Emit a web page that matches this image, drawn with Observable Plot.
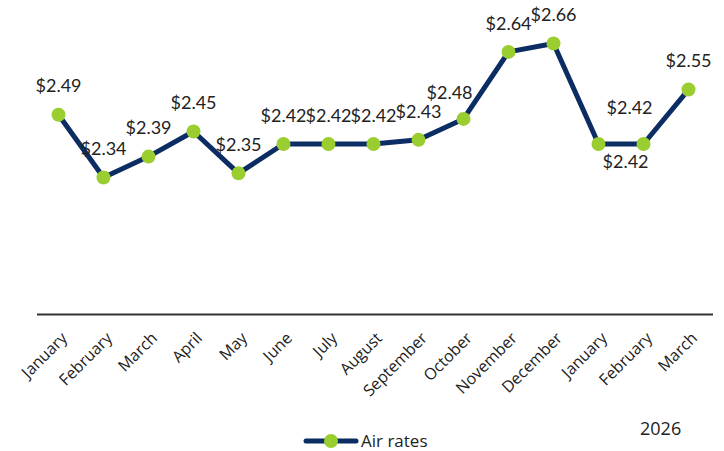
<!DOCTYPE html>
<html>
<head>
<meta charset="utf-8">
<script src="https://cdn.jsdelivr.net/npm/d3@7"></script>
<script src="https://cdn.jsdelivr.net/npm/@observablehq/plot@0.6"></script>
<style>
  body { margin: 0; background: #fff; font-family: Lato, sans-serif; }
  #wrap { position: relative; width: 724px; height: 451px; overflow: hidden; }
  #year { position: absolute; left: 640px; top: 416px; font-size: 18px; line-height: 24px; color: #222; font-family: "Open Sans", sans-serif; }
  #legend { position: absolute; left: 302px; top: 431px; height: 20px; font-size: 17px; line-height: 20px; color: #222; display: flex; align-items: center; font-family: "Open Sans", sans-serif; }
  #legend svg { margin-right: 1px; }
</style>
</head>
<body>
<div id="wrap">
  <div id="chart"></div>
  <div id="year">2026</div>
  <div id="legend"><svg width="58" height="20"><line x1="4" y1="10" x2="54" y2="10" stroke="#0b2d63" stroke-width="5" stroke-linecap="round"/><circle cx="29" cy="10" r="7" fill="#9acd2f"/></svg><span>Air rates</span></div>
</div>
<script>
const months = ["January","February","March","April","May","June","July","August","September","October","November","December","January","February","March"];
const rates = [2.49, 2.34, 2.39, 2.45, 2.35, 2.42, 2.42, 2.42, 2.43, 2.48, 2.64, 2.66, 2.42, 2.42, 2.55];
// label placement keyword per point
const placement = ["above","above","above","above","above","above","above","above","above","above-left","above","above","above-shifted","below-shifted","above"];

const data = rates.map((v, i) => ({i, v, m: months[i], p: placement[i]}));
const lineColor = "#0b2d63";
const dotColor = "#9acd2f";
const fmt = d => "$" + d.v.toFixed(2);
const labelStyle = {x: "i", y: "v", text: fmt, fontSize: 18, fill: "#222", fontFamily: "Lato, sans-serif"};

const chart = Plot.plot({
  width: 724,
  height: 451,
  marginLeft: 37,
  marginRight: 11,
  marginTop: 10,
  marginBottom: 137,
  style: {fontFamily: "'Open Sans', sans-serif", fontSize: "16px", color: "#222", background: "#fff"},
  x: {type: "point", domain: d3.range(months.length), range: [58, 688], padding: 0, axis: null, label: null},
  y: {domain: [2.013, 2.66], range: [314, 43], axis: null, label: null},
  marks: [
    Plot.ruleY([2.013], {stroke: "#333", strokeWidth: 2}),
    Plot.axisX({
      label: null,
      tickSize: 0,
      tickRotate: -45,
      tickFormat: i => months[i],
      fontSize: 16,
      fill: "#222",
      tickPadding: 21,
      dx: 6
    }),
    Plot.line(data, {x: "i", y: "v", stroke: lineColor, strokeWidth: 5, strokeLinejoin: "round"}),
    Plot.dot(data, {x: "i", y: "v", r: 7, fill: dotColor, stroke: "none"}),
    Plot.text(data.filter(d => d.p === "above"), {...labelStyle, dy: -28}),
    Plot.text(data.filter(d => d.p === "above-left"), {...labelStyle, dy: -26, dx: -14}),
    Plot.text(data.filter(d => d.p === "above-shifted"), {...labelStyle, dy: -36, dx: 31}),
    Plot.text(data.filter(d => d.p === "below-shifted"), {...labelStyle, dy: 18, dx: -18})
  ]
});
document.getElementById("chart").appendChild(chart);
</script>
</body>
</html>
